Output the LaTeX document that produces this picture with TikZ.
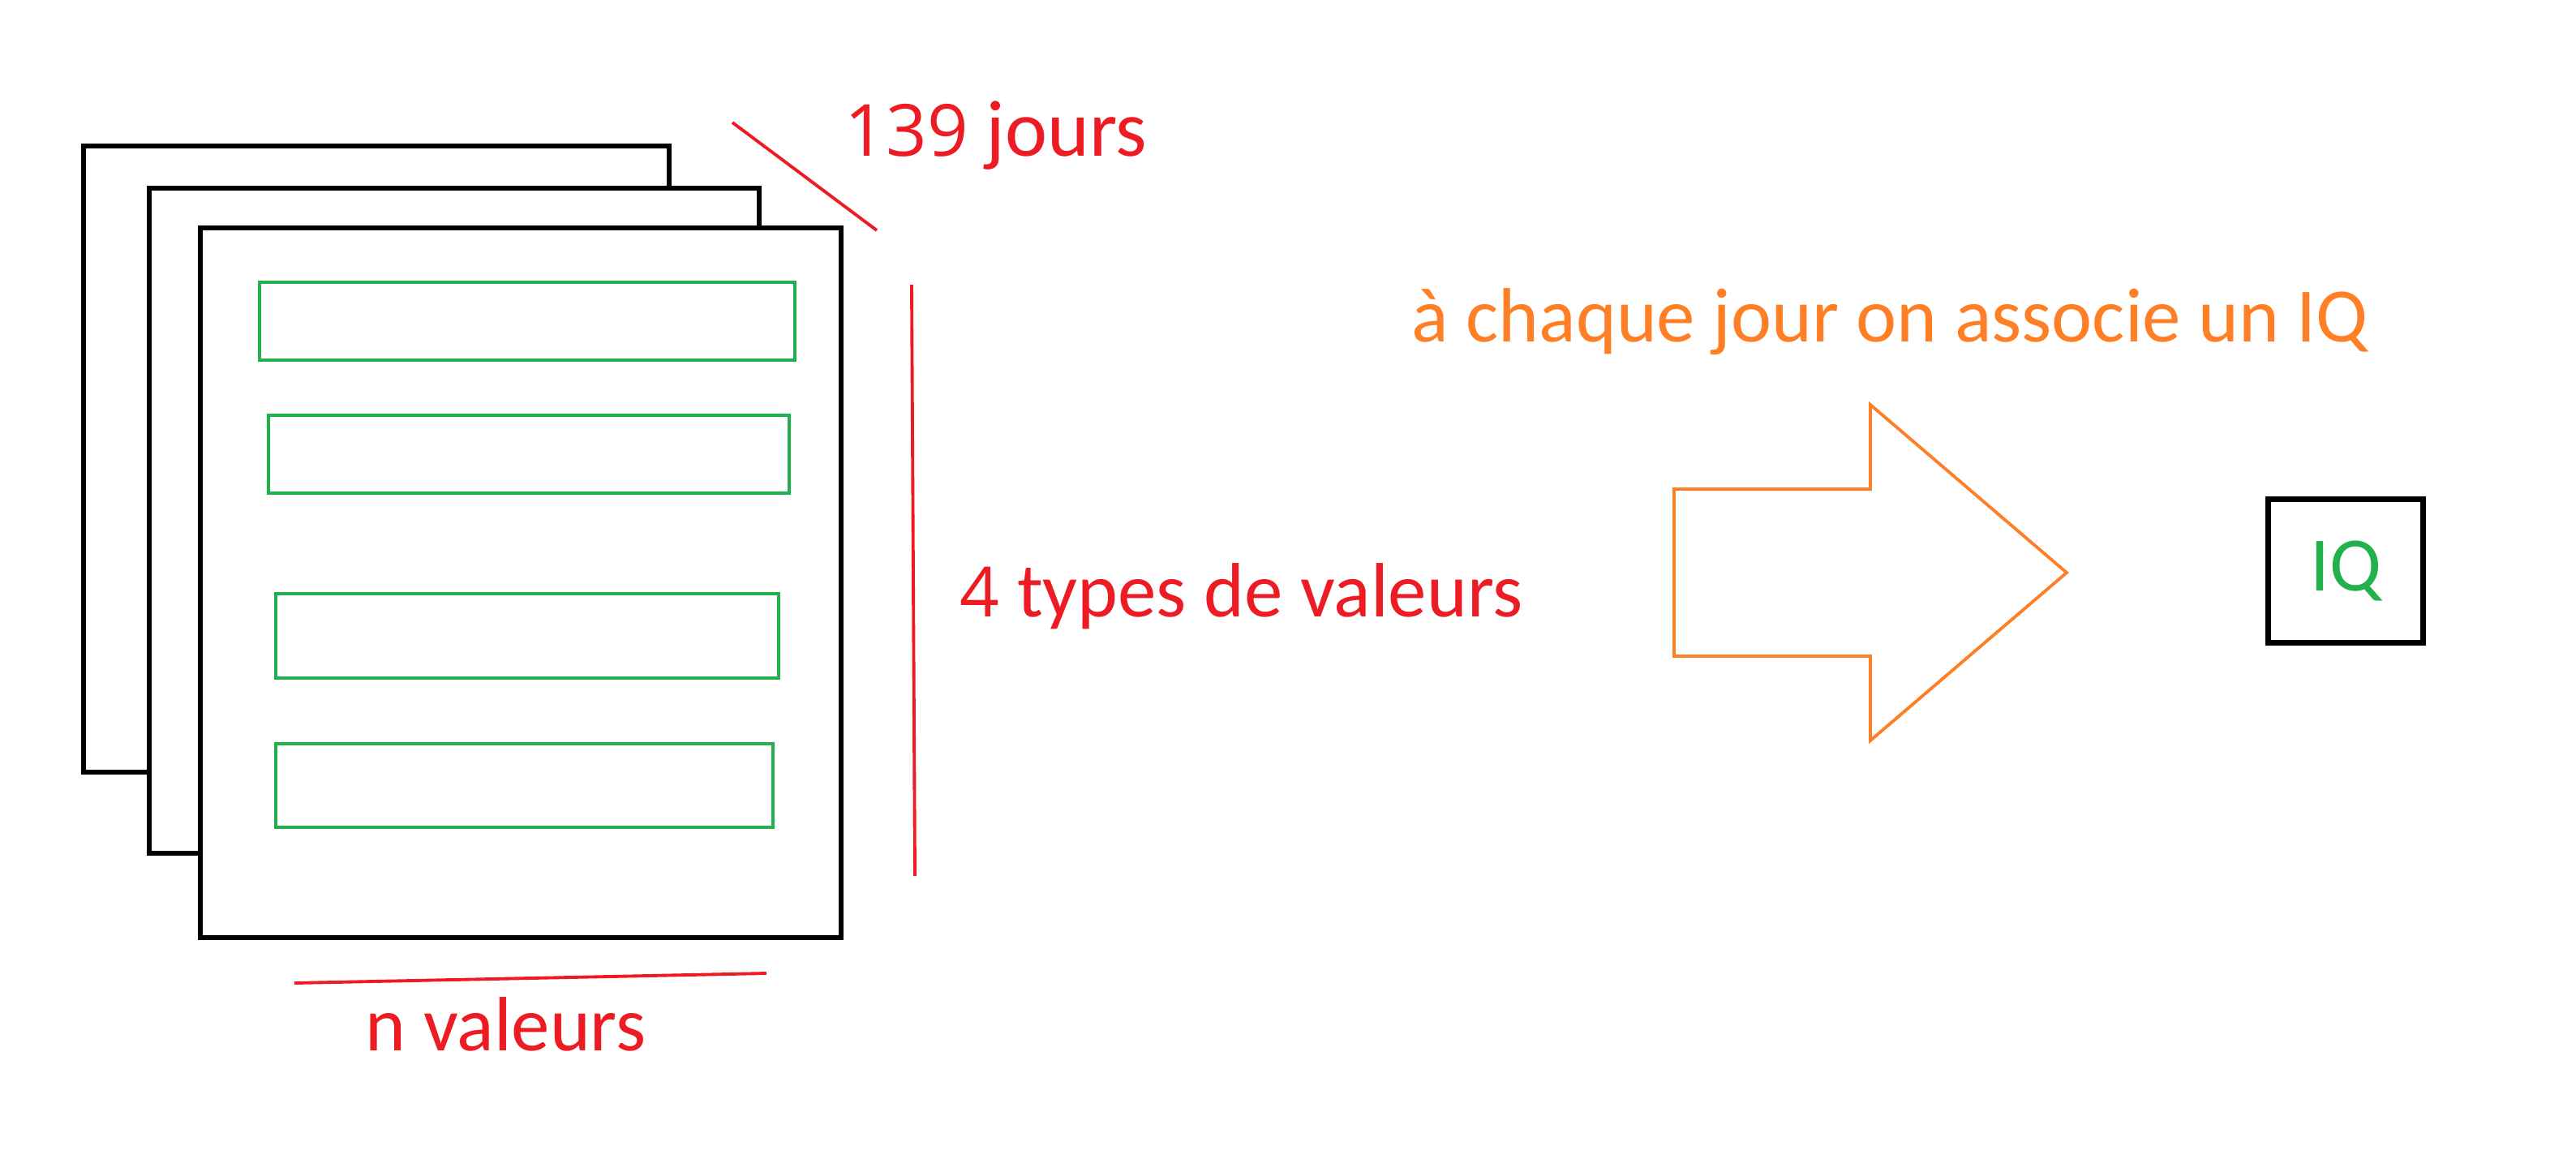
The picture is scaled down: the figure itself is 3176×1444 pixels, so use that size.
\documentclass[tikz,border=0pt]{standalone}
\usepackage{fontspec}
\setmainfont{Carlito}
\newfontfamily\chiffres[Scale=0.9]{Open Sans}
\definecolor{rouge}{RGB}{237,28,36}
\definecolor{vert}{RGB}{34,177,76}
\definecolor{orangeIQ}{RGB}{255,127,39}
\tikzset{texte/.style={inner sep=0pt,anchor=base west,font=\fontsize{27}{32}\selectfont}}
\begin{document}
\begin{tikzpicture}[x=0.01cm,y=-0.01cm,line join=miter]
	\useasboundingbox (0,0) rectangle (3176,1444);
	\newcommand{\feuille}[2]{\draw[line width=1.7pt,fill=white] #1 rectangle #2;}
	\newcommand{\ligne}[2]{\draw[vert,line width=1.4pt] #1 rectangle #2;}
	
	% les jours empiles
	\feuille{(103,180)}{(825,952)}
	\feuille{(184,232)}{(936,1052)}
	\feuille{(247,281)}{(1037,1156)}
	
	% les types de valeurs
	\ligne{(320,348)}{(980,444)}
	\ligne{(331,512)}{(973,608)}
	\ligne{(340,732)}{(960,836)}
	\ligne{(340,917)}{(953,1020)}
	
	\coordinate (J1) at ( 903, 151); \coordinate (J2) at (1081, 284);
	\coordinate (T1) at (1124, 351); \coordinate (T2) at (1128,1080);
	\coordinate (N1) at ( 363,1212); \coordinate (N2) at ( 945,1200);
	\draw[rouge,line width=1.1pt] (J1)--(J2) (T1)--(T2) (N1)--(N2);
	
	\node[texte,rouge,font=\fontsize{28}{33}\selectfont] (jours) at (1041,192) {{\chiffres 139} jours};
	\node[texte,rouge] (types) at (1183,760) {{\chiffres 4} types de valeurs};
	\node[texte,rouge] (nval) at (450,1295) {n valeurs};
	\node[texte,text=orangeIQ] (assoc) at (1740,421) {à chaque jour on associe un IQ};
	
	% la fleche
	\draw[orangeIQ,line width=1.1pt] (2064,603)--(2306,603)--(2306,499)--(2548,706)
		--(2306,913)--(2306,809)--(2064,809)--cycle;
	
	\node[draw,line width=1.8pt,minimum width=1.91cm,minimum height=1.77cm,
		text=vert,font=\fontsize{27}{32}\selectfont] (iq) at (2892,704) {IQ};
\end{tikzpicture}
\end{document}
